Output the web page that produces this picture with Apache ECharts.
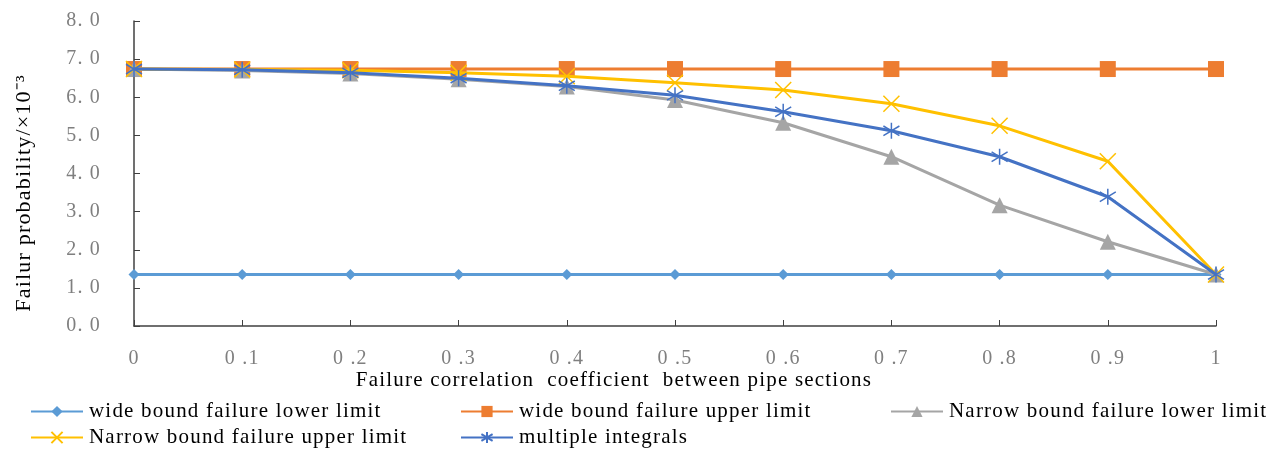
<!DOCTYPE html>
<html><head><meta charset="utf-8">
<script src="https://cdn.jsdelivr.net/npm/echarts@6/dist/echarts.min.js"></script>
<style>html,body{margin:0;padding:0;background:#fff}#c{width:1278px;height:450px}</style>
</head><body><div id="c"></div>
<script>
const categories = ['0','0.1','0.2','0.3','0.4','0.5','0.6','0.7','0.8','0.9','1'];
const yTicks = [0,1,2,3,4,5,6,7,8];
const wideLower  = [1.35,1.35,1.35,1.35,1.35,1.35,1.35,1.35,1.35,1.35,1.35];
const wideUpper  = [6.74,6.74,6.74,6.74,6.74,6.74,6.74,6.74,6.74,6.74,6.74];
const narrowLower= [6.74,6.70,6.62,6.47,6.28,5.93,5.33,4.44,3.17,2.21,1.35];
const narrowUpper= [6.74,6.73,6.71,6.64,6.55,6.38,6.19,5.83,5.25,4.32,1.35];
const multiInt   = [6.74,6.72,6.64,6.50,6.30,6.05,5.62,5.12,4.44,3.39,1.35];
const names = ['wide bound failure lower limit','wide bound failure upper limit','Narrow bound failure lower limit','Narrow bound failure upper limit','multiple integrals'];
const xTitle = 'Failure correlation  coefficient  between pipe sections';
const yTitle = 'Failur probability/×10⁻³';

// wider letter spacing, as in the reference's text rendering
(function(){
  const P = CanvasRenderingContext2D.prototype, of = P.fillText;
  P.fillText = function(){ try { this.letterSpacing = '1.2px'; } catch(e){} return of.apply(this, arguments); };
})();

const serif = '"Liberation Serif","Times New Roman",serif';
const xPath = 'path://M0,0L10,10M10,0L0,10';
const astPath = 'path://M5,0L5,10M0,2L10,8M0,8L10,2';

const chart = echarts.init(document.getElementById('c'));
function legendAt(name, left, top){
  return {data:[name], left:left, top:top, itemWidth:52, itemHeight:14, itemGap:0, padding:0,
    textStyle:{fontFamily:serif, fontSize:21, color:'#000', padding:[0,0,0,1]}};
}
chart.setOption({
  animation:false,
  grid:{left:134, right:62, top:21, bottom:124},
  legend:[
    legendAt(names[0], 30, 401),
    legendAt(names[1], 460, 401),
    legendAt(names[2], 890, 401),
    legendAt(names[3], 30, 427),
    legendAt(names[4], 460, 427)
  ],
  graphic:[
    {type:'text', x:614, y:380, style:{text:xTitle, fontFamily:serif, fontSize:21, fill:'#000', align:'center', verticalAlign:'middle'}},
    {type:'text', x:24, y:193, rotation:Math.PI/2, style:{text:yTitle, fontFamily:serif, fontSize:22, fill:'#000', align:'center', verticalAlign:'middle'}}
  ],
  xAxis:{type:'category', data:categories, boundaryGap:false,
    axisLine:{lineStyle:{color:'#404040', width:1.5}},
    axisTick:{inside:true, length:6, lineStyle:{color:'#404040'}},
    axisLabel:{margin:23, fontFamily:serif, fontSize:20, color:'#7f7f7f',
      formatter:v=>v.replace('.', ' .')},
    splitLine:{show:false}},
  yAxis:{type:'value', min:0, max:8, interval:1,
    axisLine:{show:true, lineStyle:{color:'#404040', width:1.5}},
    axisTick:{show:true, inside:true, length:6, lineStyle:{color:'#404040'}},
    axisLabel:{margin:33, fontFamily:serif, fontSize:20, color:'#7f7f7f',
      formatter:v=>v.toFixed(1).replace('.', '. ')},
    splitLine:{show:false}},
  series:[
    {name:names[0], type:'line', data:wideLower, symbol:'diamond', symbolSize:11,
      lineStyle:{color:'#5B9BD5', width:3}, itemStyle:{color:'#5B9BD5'}, z:2},
    {name:names[1], type:'line', data:wideUpper, symbol:'rect', symbolSize:16,
      lineStyle:{color:'#ED7D31', width:3}, itemStyle:{color:'#ED7D31'}, z:2},
    {name:names[2], type:'line', data:narrowLower, symbol:'triangle', symbolSize:16,
      lineStyle:{color:'#A5A5A5', width:3}, itemStyle:{color:'#A5A5A5'}, z:3},
    {name:names[3], type:'line', data:narrowUpper, symbol:xPath, symbolSize:16,
      lineStyle:{color:'#FFC000', width:3}, itemStyle:{color:'rgba(0,0,0,0)', borderColor:'#FFC000', borderWidth:1.5}, z:4},
    {name:names[4], type:'line', data:multiInt, symbol:astPath, symbolSize:16,
      lineStyle:{color:'#4472C4', width:3}, itemStyle:{color:'rgba(0,0,0,0)', borderColor:'#4472C4', borderWidth:1.5}, z:5}
  ]
});
</script></body></html>
